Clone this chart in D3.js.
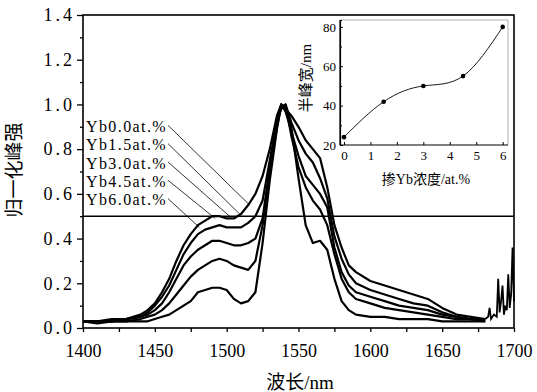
<!DOCTYPE html>
<html>
<head>
<meta charset="utf-8">
<script src="https://cdn.jsdelivr.net/npm/d3@7"></script>
<style>
  body { margin: 0; background: #fff; }
</style>
</head>
<body>
<div id="chart"></div>
<script>
// ---- data ----
var wavelengths = [1400, 1410, 1420, 1430, 1440, 1445, 1450, 1455, 1460, 1465, 1470, 1475, 1480, 1485, 1490, 1495,
    1500, 1505, 1510, 1515, 1520, 1525, 1530, 1535, 1538, 1541, 1545, 1550, 1555, 1560, 1565, 1570, 1575, 1580,
    1585, 1590, 1600, 1610, 1620, 1630, 1640, 1650, 1660, 1670, 1680];

var yb00 = [0.03, 0.02, 0.03, 0.03, 0.03, 0.03, 0.04, 0.05, 0.06, 0.08, 0.10, 0.12, 0.16, 0.17, 0.18, 0.18,
    0.17, 0.13, 0.11, 0.12, 0.16, 0.38, 0.66, 0.89, 1.00, 0.97, 0.90, 0.67, 0.46, 0.38, 0.39, 0.35, 0.22, 0.12,
    0.08, 0.06, 0.05, 0.05, 0.04, 0.04, 0.04, 0.03, 0.03, 0.03, 0.03];
var yb15 = [0.03, 0.03, 0.03, 0.03, 0.04, 0.05, 0.06, 0.08, 0.11, 0.15, 0.19, 0.23, 0.26, 0.28, 0.30, 0.31,
    0.30, 0.28, 0.27, 0.26, 0.30, 0.46, 0.70, 0.90, 0.99, 1.00, 0.86, 0.72, 0.63, 0.57, 0.53, 0.46, 0.33, 0.22,
    0.16, 0.13, 0.11, 0.09, 0.08, 0.07, 0.06, 0.05, 0.04, 0.04, 0.03];
var yb30 = [0.03, 0.03, 0.03, 0.04, 0.05, 0.06, 0.08, 0.11, 0.16, 0.22, 0.28, 0.32, 0.35, 0.37, 0.39, 0.39,
    0.38, 0.37, 0.37, 0.38, 0.40, 0.49, 0.72, 0.92, 1.00, 0.97, 0.88, 0.77, 0.68, 0.64, 0.60, 0.54, 0.36, 0.25,
    0.19, 0.16, 0.14, 0.12, 0.10, 0.09, 0.08, 0.06, 0.05, 0.04, 0.04];
var yb45 = [0.03, 0.03, 0.03, 0.04, 0.05, 0.07, 0.10, 0.14, 0.19, 0.26, 0.33, 0.38, 0.42, 0.44, 0.45, 0.46,
    0.45, 0.45, 0.45, 0.47, 0.50, 0.57, 0.75, 0.93, 0.98, 1.00, 0.92, 0.84, 0.78, 0.74, 0.67, 0.58, 0.41, 0.31,
    0.24, 0.20, 0.17, 0.15, 0.13, 0.11, 0.10, 0.07, 0.05, 0.04, 0.04];
var yb60 = [0.03, 0.03, 0.04, 0.04, 0.06, 0.08, 0.11, 0.16, 0.22, 0.30, 0.37, 0.42, 0.46, 0.48, 0.50, 0.50,
    0.49, 0.49, 0.51, 0.55, 0.60, 0.68, 0.80, 0.95, 1.00, 0.98, 0.95, 0.90, 0.84, 0.80, 0.76, 0.63, 0.46, 0.36,
    0.28, 0.25, 0.21, 0.19, 0.17, 0.15, 0.13, 0.09, 0.06, 0.05, 0.04];

// shared noisy tail at the long-wavelength end
var tailWl = [1680, 1682, 1683, 1684, 1686, 1688, 1689, 1690, 1691, 1692, 1693, 1694, 1695, 1696, 1697, 1698, 1699, 1700];
var tailVal = [0.04, 0.05, 0.09, 0.04, 0.06, 0.05, 0.22, 0.07, 0.12, 0.19, 0.06, 0.10, 0.08, 0.24, 0.09, 0.15, 0.36, 0.12];

var seriesNames = ["Yb0.0at.%", "Yb1.5at.%", "Yb3.0at.%", "Yb4.5at.%", "Yb6.0at.%"];
var seriesValues = [yb00, yb15, yb30, yb45, yb60];
// where each label's leader line points (wavelength, intensity)
var leaderWl = [1516, 1509, 1502, 1492, 1481];
var leaderVal = [0.55, 0.51, 0.50, 0.49, 0.45];

var xTicks = [1400, 1450, 1500, 1550, 1600, 1650, 1700];
var yTicks = [0, 0.2, 0.4, 0.6, 0.8, 1.0, 1.2, 1.4];

// inset: FWHM vs Yb concentration
var ybConc = [0, 1.5, 3, 4.5, 6];
var fwhm = [24, 42, 50, 55, 80];
var insetXTicks = [0, 1, 2, 3, 4, 5, 6];
var insetYTicks = [20, 40, 60, 80];

var serif = "'Liberation Serif', 'DejaVu Serif', serif";
var cjk = "'Liberation Serif', 'Noto Sans CJK SC', serif";

function init() {
    var w = 537, h = 392;
    var left = 83, right = 514, top = 15, bottom = 328;

    var svg = d3.select("#chart").append("svg")
        .attr("width", w)
        .attr("height", h);

    var x = d3.scaleLinear().domain([1400, 1700]).range([left, right]);
    var y = d3.scaleLinear().domain([0, 1.4]).range([bottom, top]);

    // spectra
    var line = d3.line()
        .x(function (d) { return x(d[0]); })
        .y(function (d) { return y(d[1]); });

    seriesValues.forEach(function (vals) {
        svg.append("path")
            .datum(d3.zip(wavelengths, vals))
            .attr("d", line)
            .attr("fill", "none")
            .attr("stroke", "#000")
            .attr("stroke-width", 2.2)
            .attr("stroke-linejoin", "round");
    });
    svg.append("path")
        .datum(d3.zip(tailWl, tailVal))
        .attr("d", line)
        .attr("fill", "none")
        .attr("stroke", "#000")
        .attr("stroke-width", 1.8);

    // half maximum line
    svg.append("line")
        .attr("x1", x(1400)).attr("x2", x(1700))
        .attr("y1", y(0.5)).attr("y2", y(0.5))
        .attr("stroke", "#000")
        .attr("stroke-width", 1.5);

    // axes
    var xAxis = d3.axisBottom(x).tickValues(xTicks).tickFormat(d3.format("d")).tickSize(4).tickPadding(12);
    var xMinor = d3.axisBottom(x).tickValues([1425, 1475, 1525, 1575, 1625, 1675]).tickFormat("").tickSize(4);
    var yAxis = d3.axisLeft(y).tickValues(yTicks).tickFormat(d3.format(".1f")).tickSize(6).tickPadding(2);
    var yMinor = d3.axisLeft(y).tickValues([0.1, 0.3, 0.5, 0.7, 0.9, 1.1, 1.3]).tickFormat("").tickSize(3);

    var gx = svg.append("g").attr("transform", "translate(0," + bottom + ")").call(xAxis);
    svg.append("g").attr("transform", "translate(0," + bottom + ")").call(xMinor);
    var gy = svg.append("g").attr("transform", "translate(" + left + ",0)").call(yAxis);
    svg.append("g").attr("transform", "translate(" + left + ",0)").call(yMinor);
    svg.selectAll(".domain").remove();
    svg.selectAll(".tick line").attr("stroke-width", 1.3);
    gx.selectAll("text").style("font-family", serif).style("font-size", "18px");
    gy.selectAll("text").style("font-family", serif).style("font-size", "18px").style("letter-spacing", "3px");

    svg.append("rect")
        .attr("x", left).attr("y", top)
        .attr("width", right - left).attr("height", bottom - top)
        .attr("fill", "none")
        .attr("stroke", "#000")
        .attr("stroke-width", 1.6);

    svg.append("text")
        .attr("x", 300).attr("y", 389)
        .attr("text-anchor", "middle")
        .style("font-family", cjk)
        .style("font-size", "19px")
        .text("波长/nm");
    svg.append("text")
        .attr("transform", "translate(21,170) rotate(-90)")
        .attr("text-anchor", "middle")
        .style("font-family", cjk)
        .style("font-size", "19px")
        .text("归一化峰强");

    // series labels with leader lines
    var labelVals = [0.902, 0.82, 0.738, 0.656, 0.574];
    seriesNames.forEach(function (name, i) {
        var t = svg.append("text")
            .attr("x", 86)
            .attr("y", y(labelVals[i]))
            .attr("dy", "0.35em")
            .style("font-family", serif)
            .style("font-size", "16px")
            .style("letter-spacing", "1.4px")
            .text(name);
        var tw = t.node().getComputedTextLength();
        svg.append("line")
            .attr("x1", 86 + tw + 1).attr("y1", y(labelVals[i]) - 1)
            .attr("x2", x(leaderWl[i])).attr("y2", y(leaderVal[i]))
            .attr("stroke", "#000")
            .attr("stroke-width", 0.8);
    });

    // ---- inset ----
    var ix = d3.scaleLinear().domain([-0.15, 6.2]).range([340, 508]);
    var iy = d3.scaleLinear().domain([20, 83.5]).range([145, 20]);

    var ins = svg.append("g");
    ins.append("line").attr("x1", 340).attr("x2", 508).attr("y1", 20).attr("y2", 20)
        .attr("stroke", "#999").attr("stroke-width", 0.8);
    ins.append("line").attr("x1", 508).attr("x2", 508).attr("y1", 20).attr("y2", 145)
        .attr("stroke", "#999").attr("stroke-width", 0.8);

    var ixAxis = d3.axisBottom(ix).tickValues(insetXTicks).tickFormat(d3.format("d")).tickSize(-3).tickPadding(6);
    var iyAxis = d3.axisLeft(iy).tickValues(insetYTicks).tickFormat(d3.format("d")).tickSize(-3).tickPadding(4);
    var iyMinor = d3.axisLeft(iy).tickValues([30, 50, 70]).tickFormat("").tickSize(-2);
    var gix = ins.append("g").attr("transform", "translate(0,145)").call(ixAxis);
    var giy = ins.append("g").attr("transform", "translate(340,0)").call(iyAxis);
    ins.append("g").attr("transform", "translate(340,0)").call(iyMinor);
    ins.selectAll(".domain").attr("stroke-width", 1.2);
    gix.select(".domain").attr("d", "M340,0H508");
    giy.select(".domain").attr("d", "M0,145V20");
    gix.selectAll("text").style("font-family", serif).style("font-size", "13px");
    giy.selectAll("text").style("font-family", serif).style("font-size", "13px");

    var curve = d3.line()
        .x(function (d) { return ix(d[0]); })
        .y(function (d) { return iy(d[1]); })
        .curve(d3.curveNatural);
    ins.append("path")
        .datum(d3.zip(ybConc, fwhm))
        .attr("d", curve)
        .attr("fill", "none")
        .attr("stroke", "#000")
        .attr("stroke-width", 0.9);
    ins.selectAll("circle")
        .data(d3.zip(ybConc, fwhm))
        .enter().append("circle")
        .attr("cx", function (d) { return ix(d[0]); })
        .attr("cy", function (d) { return iy(d[1]); })
        .attr("r", 2.3)
        .attr("fill", "#000");

    ins.append("text")
        .attr("x", 426).attr("y", 184)
        .attr("text-anchor", "middle")
        .style("font-family", cjk)
        .style("font-size", "14px")
        .text("掺Yb浓度/at.%");
    ins.append("text")
        .attr("transform", "translate(311,78) rotate(-90)")
        .attr("text-anchor", "middle")
        .style("font-family", cjk)
        .style("font-size", "15px")
        .text("半峰宽/nm");
}

window.onload = init;
</script>
</body>
</html>
